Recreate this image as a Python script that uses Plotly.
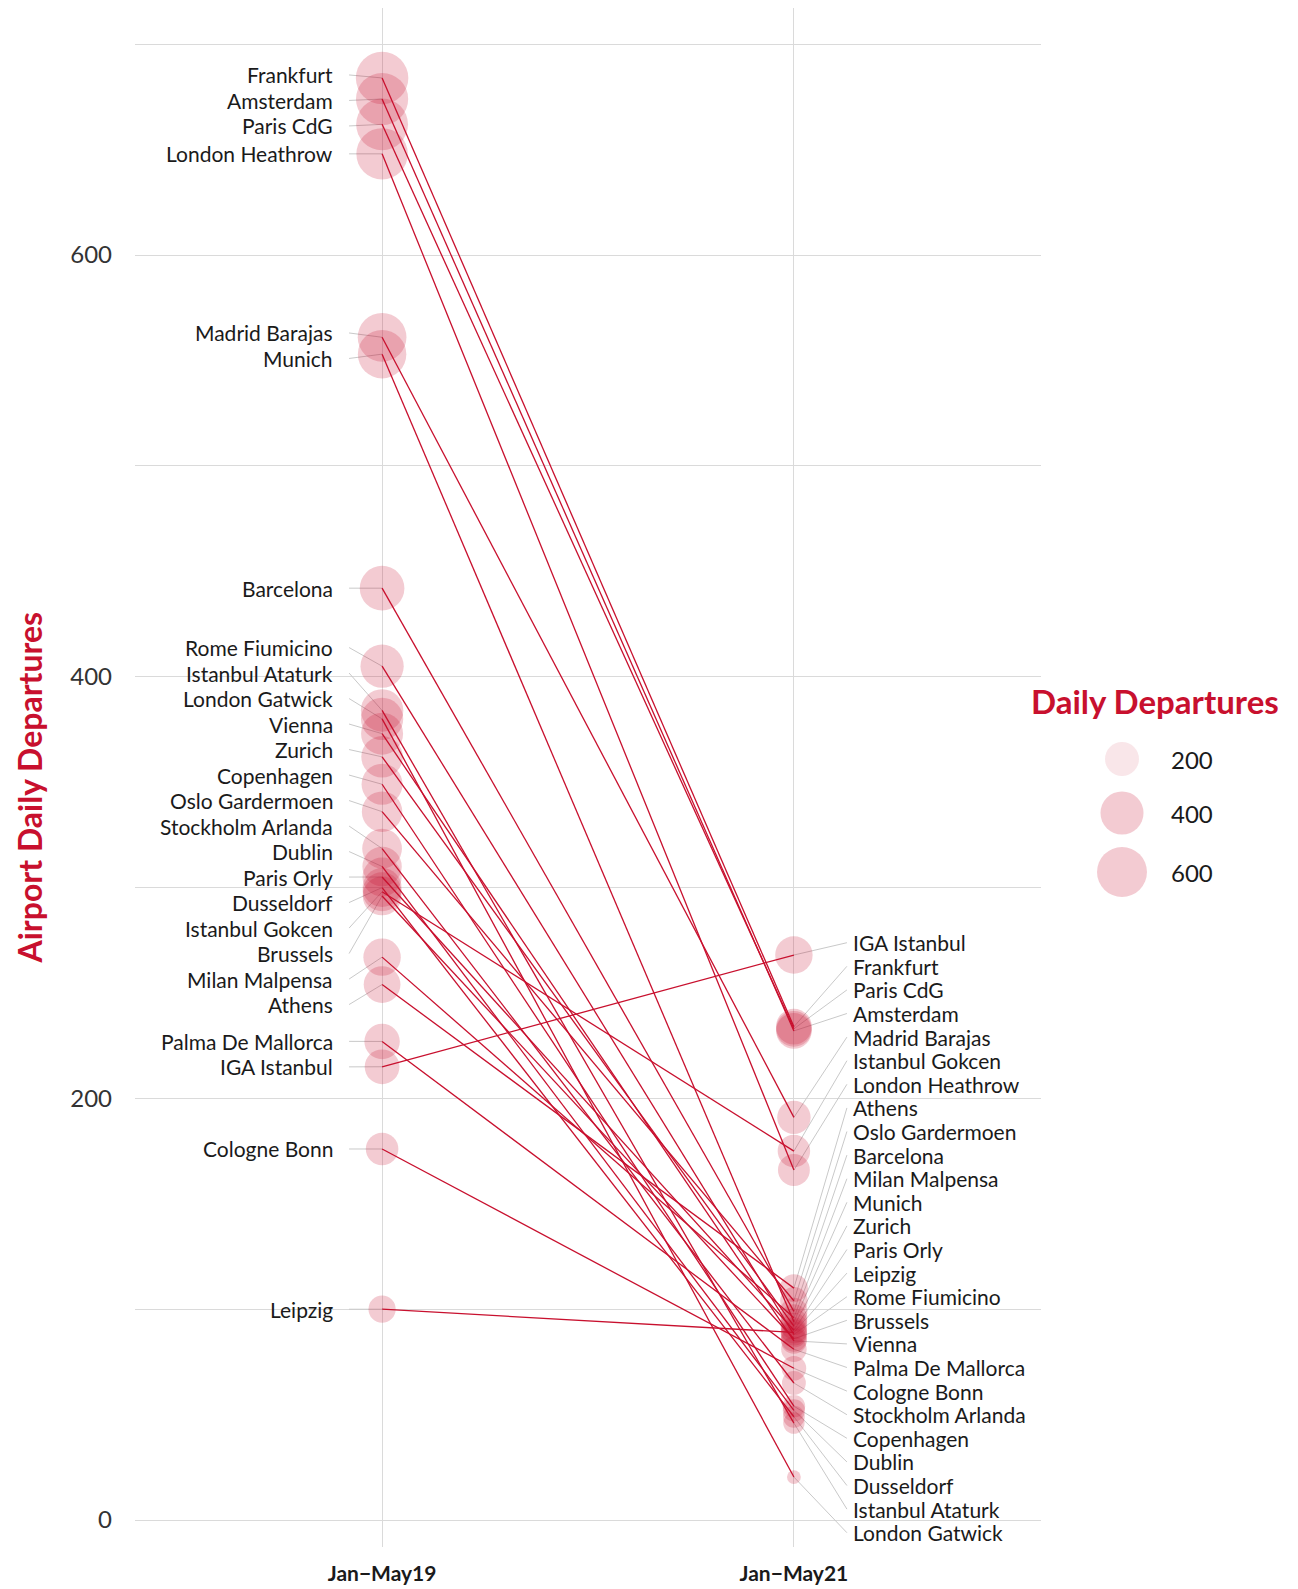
import numpy as np
import plotly.graph_objects as go

# ---------------- data ----------------
airports = ["Frankfurt", "Amsterdam", "Paris CdG", "London Heathrow", "Madrid Barajas",
            "Munich", "Barcelona", "Rome Fiumicino", "Istanbul Ataturk", "London Gatwick",
            "Vienna", "Zurich", "Copenhagen", "Oslo Gardermoen", "Stockholm Arlanda",
            "Dublin", "Paris Orly", "Dusseldorf", "Istanbul Gokcen", "Brussels",
            "Milan Malpensa", "Athens", "Palma De Mallorca", "IGA Istanbul",
            "Cologne Bonn", "Leipzig"]
dep_2019 = [684, 674, 662, 648, 561, 553, 442, 405, 384, 380, 373, 362, 349, 336, 318.5,
            310, 305, 300, 298, 296, 267, 254, 227, 215, 176, 100]
dep_2021 = [234, 232, 233, 166, 191, 94, 99, 88, 46, 20.4, 85, 92, 54, 104, 65,
            52, 90, 49, 175, 86, 96, 110, 81, 268, 72, 89]
periods = ["Jan\u2212May19", "Jan\u2212May21"]
y_tick_values = [0, 100, 200, 300, 400, 500, 600, 700]
y_tick_labels = ["0", "", "200", "", "400", "", "600", ""]
legend_values = [200, 400, 600]

# ---------------- style ----------------
RED = "#C8102E"
BUBBLE = "rgba(200,16,46,0.31)"
GRID = "#DADADA"
TXT = "#1a1a1a"
FONT = "Lato"
OFF = 8                      # page body margin of the html page
W, H = 1298 - OFF, 1589 - OFF
# panel in page pixels: x 135..1041, y 8..1547
ML = 135 - OFF
MT = 8 - OFF
MB = H - (1547 - OFF)
MR = 2
PW = W - ML - MR
PH = H - MT - MB
MAIN_W = 906  # px width of main panel

all_vals = np.array(dep_2019 + dep_2021, float)
vmin, vmax = all_vals.min(), all_vals.max()
yr = [vmin - 0.05 * (vmax - vmin), vmax + 0.05 * (vmax - vmin)]
px_per_unit = PH / (yr[1] - yr[0])


def bubble_diam(v):
    v = np.asarray(v, float)
    return 13.8 + 38.7 * np.sqrt(np.clip((v - vmin) / (vmax - vmin), 0, 1))


def repel(vals, gap, lo, hi, iters=3000):
    vals = np.asarray(vals, float)
    order = np.argsort(-vals, kind="stable")
    y = vals[order].copy()
    for _ in range(iters):
        for i in range(len(y) - 1):
            d = y[i] - y[i + 1]
            if d < gap:
                p = (gap - d) / 2
                y[i] += p
                y[i + 1] -= p
        y = np.clip(y, lo, hi)
    out = np.empty_like(y)
    out[order] = y
    return out


lab19 = repel(dep_2019, 25.5 / px_per_unit, -6, 712)
lab21 = repel(dep_2021, 23.6 / px_per_unit, -6, 712)

xr = [0.4, 2.6]
ux = MAIN_W / (xr[1] - xr[0])  # px per x unit
x_lab_left = 1 - 47 / ux
x_lead_left = 1 - 33 / ux
x_lab_right = 2 + 57 / ux
x_lead_right = 2 + 53 / ux

fig = go.Figure()

# leader segments
lx, ly = [], []
for v, l in zip(dep_2019, lab19):
    lx += [x_lead_left, 1, None]
    ly += [l, v, None]
for v, l in zip(dep_2021, lab21):
    lx += [2, x_lead_right, None]
    ly += [v, l, None]
fig.add_trace(go.Scatter(x=lx, y=ly, mode="lines", line=dict(color="#C9C9C9", width=1),
                         hoverinfo="skip", showlegend=False))

# bubbles
bx = [1] * len(dep_2019) + [2] * len(dep_2021)
by = dep_2019 + dep_2021
fig.add_trace(go.Scatter(x=bx, y=by, mode="markers",
                         marker=dict(size=bubble_diam(by), color=BUBBLE, line=dict(width=0)),
                         hoverinfo="skip", showlegend=False))

# slope lines
sx, sy = [], []
for a, b in zip(dep_2019, dep_2021):
    sx += [1, 2, None]
    sy += [a, b, None]
fig.add_trace(go.Scatter(x=sx, y=sy, mode="lines", line=dict(color=RED, width=1.3),
                         hoverinfo="skip", showlegend=False))

# labels
LBL = 21
ann = []
for name, l in zip(airports, lab19):
    ann.append(dict(x=x_lab_left, y=l, xref="x", yref="y", text=name, showarrow=False,
                    xanchor="right", yanchor="middle", font=dict(family=FONT, size=LBL, color=TXT)))
for name, l in zip(airports, lab21):
    ann.append(dict(x=x_lab_right, y=l, xref="x", yref="y", text=name, showarrow=False,
                    xanchor="left", yanchor="middle", font=dict(family=FONT, size=LBL, color=TXT)))

# y title (page pixel x~28, y=788)
ann.append(dict(x=(28.5 - OFF - ML) / PW, y=1 - (788 - 8) / PH, xref="paper", yref="paper",
                text="Airport Daily Departures", textangle=-90, showarrow=False,
                xanchor="center", yanchor="middle",
                font=dict(family=FONT, size=32, color=RED, weight="bold")))

# legend (drawn on its own axes, whose units are page pixels)
leg_x = 1122
leg_y0 = 759
leg_step = [0, 54, 113]
leg_y = [leg_y0 + s for s in leg_step]
leg_cols = ["rgba(200,16,46,0.15)", BUBBLE, BUBBLE]
fig.add_trace(go.Scatter(x=[leg_x] * 3, y=leg_y, mode="markers", xaxis="x2", yaxis="y2",
                         marker=dict(size=bubble_diam(legend_values), color=leg_cols, line=dict(width=0)),
                         hoverinfo="skip", showlegend=False))
for v, yy in zip(legend_values, leg_y):
    ann.append(dict(x=1169, y=yy, xref="x2", yref="y2", text=str(v), showarrow=False,
                    xanchor="left", yanchor="middle", font=dict(family=FONT, size=24, color=TXT)))
ann.append(dict(x=1155, y=701, xref="x2", yref="y2", text="Daily Departures", showarrow=False,
                xanchor="center", yanchor="middle",
                font=dict(family=FONT, size=33, color=RED, weight="bold")))

x2_lo_fig = ML + MAIN_W + 16
fig.update_layout(
    width=W, height=H,
    margin=dict(l=ML, r=MR, t=MT, b=MB, autoexpand=False),
    paper_bgcolor="white", plot_bgcolor="white",
    font=dict(family=FONT, color=TXT),
    annotations=ann,
    xaxis=dict(domain=[0, MAIN_W / PW], range=xr, tickvals=[1, 2], ticktext=periods,
               showgrid=True, gridcolor=GRID, gridwidth=1.3, zeroline=False, ticks="",
               tickfont=dict(family=FONT, size=21, color=TXT, weight="bold"),
               ticklabelstandoff=12, showline=False, fixedrange=True, automargin=False),
    yaxis=dict(domain=[0, 1], range=yr, tickvals=y_tick_values, ticktext=y_tick_labels,
               showgrid=True, gridcolor=GRID, gridwidth=1.3, zeroline=False, ticks="",
               tickfont=dict(family=FONT, size=24, color="#333333"),
               ticklabelstandoff=22, showline=False, automargin=False),
    xaxis2=dict(domain=[(x2_lo_fig - ML) / PW, 1], range=[x2_lo_fig + OFF, W - MR + OFF],
                visible=False, anchor="y2", automargin=False),
    yaxis2=dict(domain=[0, 1], range=[H - MB + OFF, MT + OFF], visible=False, anchor="x2",
                automargin=False),
)

fig.write_html("out.html")
